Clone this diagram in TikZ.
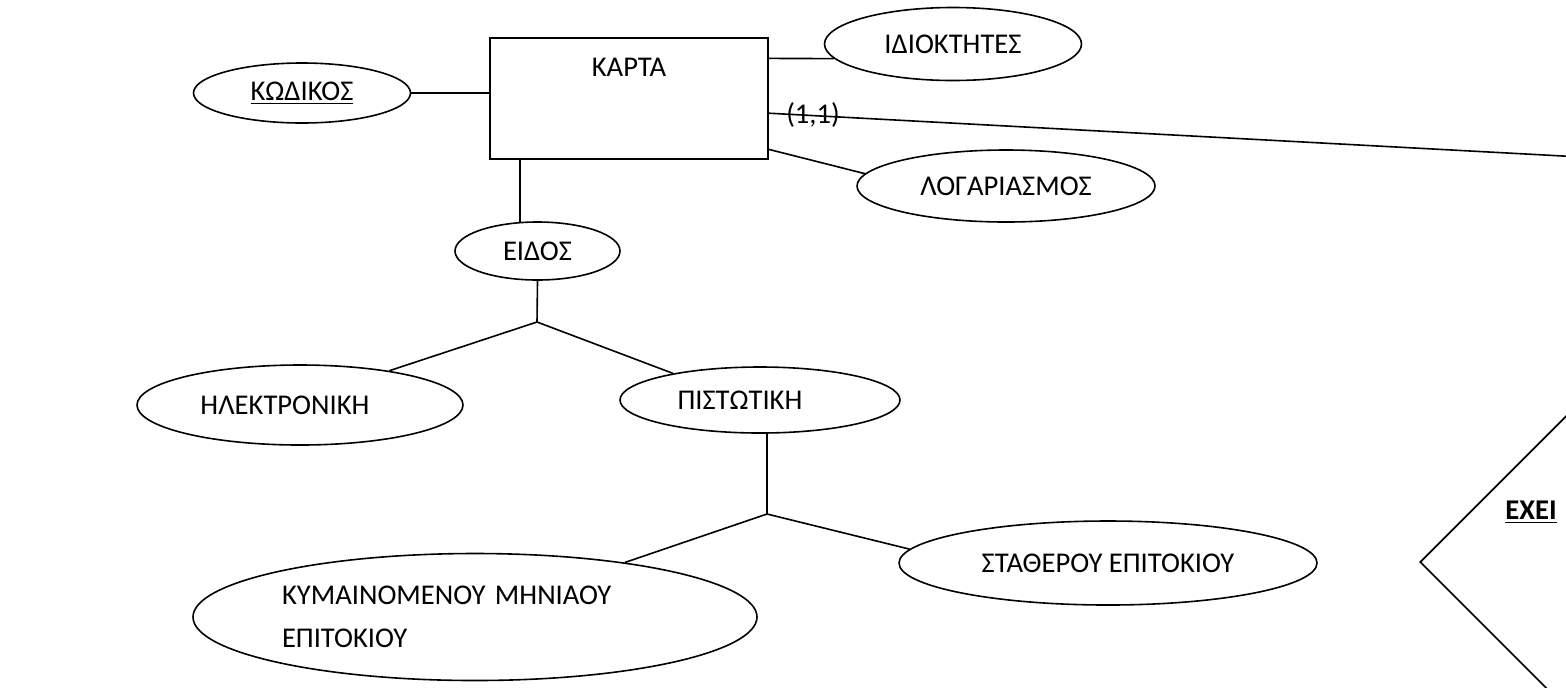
\documentclass[tikz,border=0pt]{standalone}
\usepackage{fontspec}
\setmainfont{Carlito}
\usetikzlibrary{shapes.geometric}

\tikzset{
  entity/.style={draw, rectangle, line width=0.8pt, inner sep=0pt},
  attr/.style={draw, ellipse, line width=0.8pt, inner sep=0pt},
  relation/.style={draw, diamond, line width=0.8pt, inner sep=0pt},
  link/.style={line width=0.8pt},
}

\begin{document}
\begin{tikzpicture}[x=0.5pt, y=-0.5pt, font=\fontsize{14.3}{21.5}\selectfont]
\useasboundingbox (0,0) rectangle (1566,687);
\clip (0,0) rectangle (1566,687);

% entity and relationship
\node[entity, minimum width=139pt, minimum height=60.5pt,
      label={[anchor=center, yshift=-15pt]north:ΚΑΡΤΑ}] (karta) at (629,98.5) {};
\node[relation, minimum width=220pt, minimum height=220pt] (exei) at (1640,562) {};
\node (exeitext) at (1531,512) {\bfseries\underline{ΕΧΕΙ}};

% attributes
\node[attr, minimum width=108.5pt, minimum height=30pt] (kodikos) at (302,93) {\underline{ΚΩΔΙΚΟΣ}};
\node[attr, minimum width=128.5pt, minimum height=36.5pt] (idiokt) at (953,44) {ΙΔΙΟΚΤΗΤΕΣ};
\node[attr, minimum width=149pt, minimum height=36pt] (logar) at (1006,186) {ΛΟΓΑΡΙΑΣΜΟΣ};
\node[attr, minimum width=82.5pt, minimum height=29pt] (eidos) at (537.5,251) {ΕΙΔΟΣ};
\node[attr, minimum width=163pt, minimum height=40pt,
      label={[xshift=-7.5pt]center:ΗΛΕΚΤΡΟΝΙΚΗ}] (hlektr) at (300,405) {};
\node[attr, minimum width=140pt, minimum height=33pt,
      label={[xshift=-10pt]center:ΠΙΣΤΩΤΙΚΗ}] (pistot) at (760,400) {};
\node[attr, minimum width=209pt, minimum height=42pt] (stather) at (1108,563) {ΣΤΑΘΕΡΟΥ ΕΠΙΤΟΚΙΟΥ};
\node[attr, minimum width=282pt, minimum height=63.5pt, text width=193pt, align=left] (kymain) at (475,617)
      {ΚΥΜΑΙΝΟΜΕΝΟΥ ΜΗΝΙΑΟΥ\\ΕΠΙΤΟΚΙΟΥ};

% branch points
\coordinate (j1) at (537,322);
\coordinate (j2) at (767,514);
\coordinate (far) at (1600,158);

% connectors
\draw[link] (kodikos.east) -- (kodikos.east -| karta.west);
\draw[link] (karta.16) -- (idiokt.187);
\draw[link] (karta.-6) -- (far);
\node (card) at (813,115) {(1,1)};
\draw[link] (karta.-20) -- (logar.175);
\draw[link] (eidos.121) -- (eidos.121 |- karta.south);
\draw[link] (eidos.south) -- (j1);
\draw[link] (j1) -- (hlektr.21);
\draw[link] (j1) -- (pistot.163);
\draw[link] (j2) -- (j2 |- pistot.south);
\draw[link] (j2) -- (kymain.20);
\draw[link] (j2) -- (stather.176);
\end{tikzpicture}
\end{document}
